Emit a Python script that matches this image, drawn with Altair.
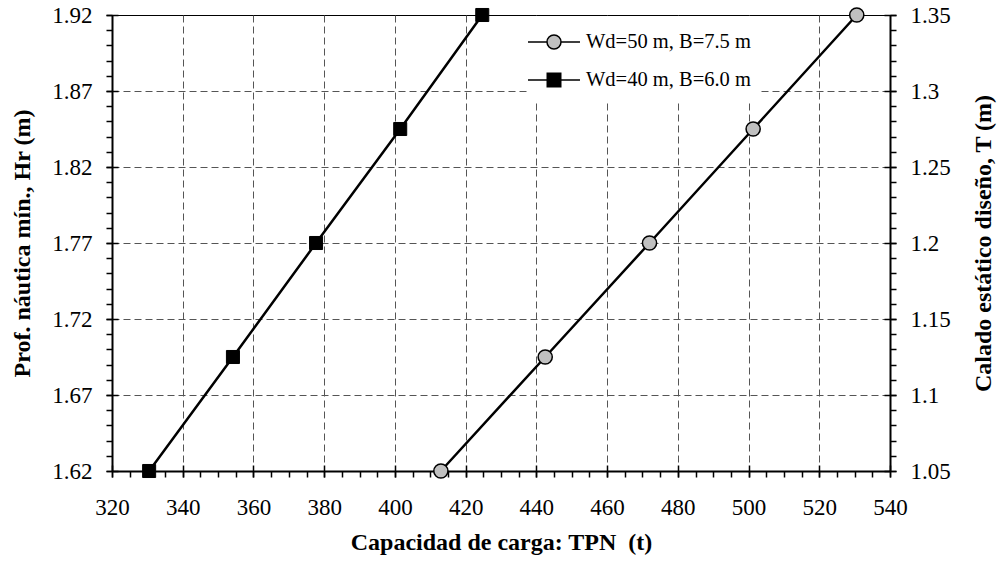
import altair as alt
import pandas as pd

# Hr (m) values shared by both curves, and the matching design draft T (m)
hr = [1.62, 1.695, 1.77, 1.845, 1.92]
calado = [1.05, 1.125, 1.20, 1.275, 1.35]

# Load capacity TPN (t) for each hull
tpn_wd50 = [413.0, 442.5, 472.0, 501.3, 530.6]
tpn_wd40 = [330.5, 354.2, 377.7, 401.5, 424.7]

series = ["Wd=50 m, B=7.5 m", "Wd=40 m, B=6.0 m"]

# tick positions
x_major = list(range(320, 541, 20))
x_minor = [v for v in range(325, 540, 5) if v % 20 != 0]
y_major = [round(1.62 + 0.05 * i, 2) for i in range(7)]
y_minor = [round(1.62 + 0.01 * i, 2) for i in range(1, 30) if i % 5 != 0]
t_major = [round(1.05 + 0.05 * i, 2) for i in range(7)]
t_minor = [round(1.05 + 0.01 * i, 2) for i in range(1, 30) if i % 5 != 0]

rows = []
for s, xs in zip(series, [tpn_wd50, tpn_wd40]):
    for x, h, t in zip(xs, hr, calado):
        rows.append({"serie": s, "tpn": x, "hr": h, "t": t})
df = pd.DataFrame(rows)

SERIF = "Liberation Serif, Times New Roman, DejaVu Serif, serif"
FS = 23      # tick labels
FS_T = 24    # axis titles

x_scale = alt.Scale(domain=[320, 540], nice=False, zero=False)
y_scale = alt.Scale(domain=[1.62, 1.92], nice=False, zero=False)
t_scale = alt.Scale(domain=[1.05, 1.35], nice=False, zero=False)


def bare(orient, **kw):
    base = dict(orient=orient, domain=False, labels=False, title=None, grid=False,
                tickColor="black", tickWidth=1.5)
    base.update(kw)
    return alt.Axis(**base)


def grid_axis(orient, values):
    return alt.Axis(orient=orient, values=values, domain=False, labels=False, ticks=False,
                    title=None, grid=True, gridDash=[7, 4], gridColor="#555", gridWidth=1)


x_main = alt.Axis(orient="bottom", values=x_major, tickSize=6, tickWidth=1.5, tickColor="black",
                  domain=True, domainColor="black", domainWidth=2, grid=False,
                  labelFont=SERIF, labelFontSize=FS, labelColor="black", labelPadding=19,
                  labelOverlap=False, labelFlush=False,
                  title="Capacidad de carga: TPN\u00a0 (t)", titleFont=SERIF, titleFontSize=FS_T,
                  titleFontWeight="bold", titleColor="black", titlePadding=11)

y_main = alt.Axis(orient="left", values=y_major, format=".2f", tickSize=6, tickWidth=1.5,
                  tickColor="black", domain=True, domainColor="black", domainWidth=2, grid=False,
                  labelFont=SERIF, labelFontSize=FS, labelColor="black", labelPadding=14,
                  labelOverlap=False, labelFlush=False,
                  title="Prof. náutica mín., Hr (m)", titleFont=SERIF, titleFontSize=FS_T,
                  titleFontWeight="bold", titleColor="black", titlePadding=17)

t_main = alt.Axis(orient="right", values=t_major, format=".2~f", tickSize=6, tickWidth=1.5,
                  tickColor="black", domain=True, domainColor="black", domainWidth=2, grid=False,
                  labelFont=SERIF, labelFontSize=FS, labelColor="black", labelPadding=14,
                  labelOverlap=False, labelFlush=False,
                  title="Calado estático diseño, T (m)", titleFont=SERIF, titleFontSize=FS_T,
                  titleFontWeight="bold", titleColor="black", titleAngle=270, titlePadding=45)

# legend keys (unit = 15 px): a 52 px line with the marker in the middle
CIRCLE_KEY = ("M-1.733,0L-0.467,0M0.467,0L1.733,0"
              "M0.467,0C0.467,0.258,0.258,0.467,0,0.467"
              "C-0.258,0.467,-0.467,0.258,-0.467,0C-0.467,-0.258,-0.258,-0.467,0,-0.467"
              "C0.258,-0.467,0.467,-0.258,0.467,0Z")
SQUARE_KEY = ("M-1.733,0L-0.45,0M0.45,0L1.733,0"
              "M-0.45,-0.45L0.45,-0.45L0.45,0.45L-0.45,0.45Z")

legend = alt.Legend(orient="none", legendX=416, legendY=1, title=None, padding=10,
                    fillColor="white", symbolSize=900, symbolStrokeWidth=1.5,
                    symbolStrokeColor="black", symbolOpacity=1, labelFont=SERIF,
                    labelFontSize=20.5, labelColor="black", labelOffset=16, rowPadding=11,
                    labelLimit=400)

base = alt.Chart(df)

lines = base.mark_line(color="black", strokeWidth=2.5).encode(
    x=alt.X("tpn:Q", scale=x_scale, axis=x_main),
    y=alt.Y("hr:Q", scale=y_scale, axis=y_main),
    detail="serie:N",
)

circles = base.transform_filter(alt.datum.serie == series[0]).mark_point(
    shape="circle", filled=True, fill="#c0c0c0", stroke="black", strokeWidth=1.5,
    size=200, opacity=1
).encode(
    x=alt.X("tpn:Q", scale=x_scale, axis=bare("bottom", values=x_major, offset=-6, tickSize=12)),
    y=alt.Y("hr:Q", scale=y_scale, axis=bare("left", values=y_major, offset=-6, tickSize=12)),
)

squares = base.transform_filter(alt.datum.serie == series[1]).mark_point(
    shape="square", filled=True, fill="black", stroke="black", strokeWidth=1,
    size=170, opacity=1
).encode(
    x=alt.X("tpn:Q", scale=x_scale, axis=bare("bottom", values=x_minor, tickSize=6)),
    y=alt.Y("hr:Q", scale=y_scale, axis=bare("left", values=y_minor, tickSize=6)),
)

keys = base.transform_filter("false").mark_point(
    filled=True, strokeWidth=1.5, opacity=1
).encode(
    x=alt.X("tpn:Q", scale=x_scale, axis=grid_axis("bottom", x_major[1:-1])),
    y=alt.Y("hr:Q", scale=y_scale, axis=grid_axis("left", y_major[1:-1])),
    fill=alt.Fill("serie:N", scale=alt.Scale(domain=series, range=["#c0c0c0", "black"]),
                  legend=legend),
    stroke=alt.Stroke("serie:N", scale=alt.Scale(domain=series, range=["black", "black"]),
                      legend=legend),
    shape=alt.Shape("serie:N", scale=alt.Scale(domain=series, range=[CIRCLE_KEY, SQUARE_KEY]),
                    legend=legend),
)

left = alt.layer(lines, circles, squares, keys).resolve_axis(x="independent", y="independent")

empty = base.transform_filter("false").mark_point(opacity=0)
r_main = empty.encode(y=alt.Y("t:Q", scale=t_scale, axis=t_main))
r_cross = empty.encode(y=alt.Y("t:Q", scale=t_scale,
                               axis=bare("right", values=t_major, offset=-6, tickSize=12)))
r_minor = empty.encode(y=alt.Y("t:Q", scale=t_scale,
                               axis=bare("right", values=t_minor, tickSize=6)))
right = alt.layer(r_main, r_cross, r_minor).resolve_axis(y="independent")

chart = alt.layer(left, right).resolve_scale(y="independent").properties(
    width=778, height=456,
    padding={"left": 112, "top": 15, "right": 108, "bottom": 95},
    autosize=alt.AutoSizeParams(type="none"),
).configure_view(stroke="black", strokeWidth=1)

chart.save("out.html", embed_options={"renderer": "svg", "actions": False})
